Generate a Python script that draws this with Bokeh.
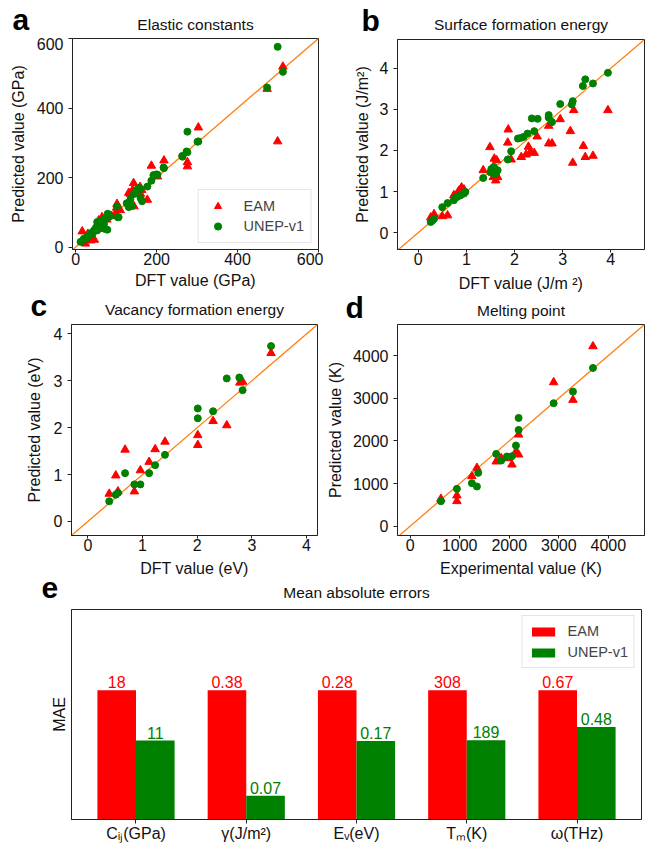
from bokeh.plotting import figure
from bokeh.layouts import column, row
from bokeh.models import Range1d, Slope, Legend, LegendItem, FixedTicker, ColumnDataSource
from bokeh.transform import dodge
from bokeh.embed import file_html
from bokeh.resources import INLINE
from bokeh.core.properties import value

FONT = "Liberation Sans"

# ---------------- data ----------------
# a: elastic constants (GPa)
a_eam_x = [16, 24, 30, 37, 46, 55, 57, 65, 68, 77, 89, 98, 101, 102, 110, 131, 135, 141, 143, 144,
           160, 159, 163, 177, 187, 202, 218, 276, 276, 303, 473, 499, 512]
a_eam_y = [45, 10, 38, 19, 21, 69, 77, 86, 53, 79, 89, 96, 113, 124, 106, 156, 153, 165, 184, 117,
           153, 173, 164, 136, 234, 203, 249, 244, 232, 344, 455, 304, 519]
a_unep_x = [12, 20, 24, 28, 33, 37, 41, 45, 46, 50, 53, 53, 58, 61, 65, 66, 69, 70, 70, 74, 78, 79,
            84, 102, 104, 106, 126, 131, 131, 135, 139, 144, 152, 156, 160, 160, 164, 177, 187, 192,
            199, 202, 217, 218, 263, 264, 274, 276, 276, 301, 303, 473, 499, 512]
a_unep_y = [15, 24, 24, 29, 33, 40, 38, 48, 46, 56, 48, 72, 72, 65, 72, 77, 77, 67, 53, 82, 50, 96,
            88, 117, 86, 86, 126, 115, 124, 137, 118, 153, 165, 170, 141, 167, 132, 174, 191, 207,
            209, 208, 229, 227, 262, 260, 275, 273, 332, 303, 304, 459, 576, 504]

# b: surface formation energy (J/m^2)
b_eam_x = [0.26, 0.33, 0.50, 0.61, 0.74, 0.78, 0.83, 0.85, 0.88, 0.90, 0.95, 1.35, 1.49, 1.56, 1.58,
           1.61, 1.63, 1.65, 1.86, 1.87, 1.93, 2.14, 2.24, 2.29, 2.33, 2.41, 2.47, 2.71, 2.71, 2.78,
           2.95, 3.16, 3.21, 3.23, 3.43, 3.47, 3.63, 3.94]
b_eam_y = [0.37, 0.45, 0.40, 0.42, 0.91, 0.90, 0.99, 1.02, 1.05, 1.10, 1.05, 1.52, 2.08, 1.35, 1.80,
           1.27, 1.76, 1.35, 2.19, 2.51, 1.78, 1.84, 1.90, 2.09, 1.96, 1.94, 2.34, 2.60, 2.17, 2.17,
           2.76, 2.47, 1.70, 2.98, 2.11, 1.84, 1.87, 2.98]
b_unep_x = [0.26, 0.30, 0.33, 0.50, 0.61, 0.74, 0.78, 0.81, 0.88, 0.95, 0.98, 1.35, 1.50, 1.52, 1.53,
            1.55, 1.57, 1.58, 1.60, 1.62, 1.65, 1.86, 1.93, 2.07, 2.14, 2.19, 2.27, 2.36, 2.41, 2.48,
            2.71, 2.71, 2.78, 2.95, 3.19, 3.21, 3.42, 3.47, 3.63, 3.94]
b_unep_y = [0.26, 0.30, 0.34, 0.62, 0.72, 0.79, 0.86, 0.87, 0.91, 0.95, 0.99, 1.33, 1.47, 1.55, 1.50,
            1.55, 1.60, 1.43, 1.52, 1.45, 1.52, 1.78, 1.98, 2.29, 2.31, 2.33, 2.41, 2.78, 2.47, 2.77,
            2.86, 2.80, 2.69, 3.13, 3.12, 3.20, 3.57, 3.73, 3.63, 3.89]

# c: vacancy formation energy (eV)
c_eam_x = [3.35, 2.78, 2.83, 2.54, 2.29, 2.01, 2.01, 1.41, 1.23, 1.12, 0.96, 0.68, 0.51, 0.55, 0.85, 0.39]
c_eam_y = [3.59, 2.96, 2.98, 2.05, 2.14, 1.84, 1.63, 1.70, 1.54, 1.27, 1.09, 1.53, 0.98, 0.64, 0.64, 0.59]
c_unep_x = [3.35, 2.77, 2.54, 2.83, 2.29, 2.01, 2.01, 1.41, 1.23, 1.12, 0.68, 0.96, 0.85, 0.55, 0.51, 0.39]
c_unep_y = [3.74, 3.07, 3.05, 2.80, 2.35, 2.41, 2.20, 1.42, 1.20, 1.03, 1.03, 0.79, 0.79, 0.61, 0.57, 0.43]

# d: melting point (K)
d_eam_x = [3690, 3286, 2896, 2189, 2189, 2135, 2054, 1953, 1838, 1737, 1347, 1246, 943, 943, 620]
d_eam_y = [4219, 2961, 3375, 2148, 1680, 1750, 1445, 1594, 1594, 1516, 1367, 1172, 719, 586, 641]
d_unep_x = [3690, 3286, 2896, 2189, 2189, 2135, 2054, 1953, 1838, 1737, 1374, 1347, 1246, 943, 620]
d_unep_y = [3711, 3156, 2883, 2539, 2258, 1891, 1641, 1633, 1539, 1695, 1250, 930, 1008, 875, 586]

# e: mean absolute errors
e_categories = ["Cᵢⱼ(GPa)", "γ(J/m²)", "Eᵥ(eV)", "Tₘ(K)", "ω(THz)"]
e_eam_mae = [18, 0.38, 0.28, 308, 0.67]
e_unep_mae = [11, 0.07, 0.17, 189, 0.48]

# titles / labels
titles = ["Elastic constants", "Surface formation energy", "Vacancy formation energy",
          "Melting point", "Mean absolute errors"]
xlabels = ["DFT value (GPa)", "DFT value (J/m ²)", "DFT value (eV)", "Experimental value (K)"]
ylabels = ["Predicted value (GPa)", "Predicted value (J/m²)", "Predicted value (eV)",
           "Predicted value (K)"]

RED = "#ff0000"
GREEN = "#008000"
ORANGE = "#ff7f0e"
SPINE = "#222222"
TXT = "#111111"


def style_axes(p, label_standoff=7):
    for ax in (p.xaxis, p.yaxis):
        ax.major_label_text_font = FONT
        ax.major_label_text_font_size = "16px"
        ax.major_label_text_color = TXT
        ax.axis_label_text_font = FONT
        ax.axis_label_text_font_size = "16px"
        ax.axis_label_text_font_style = "normal"
        ax.axis_label_text_color = TXT
        ax.major_tick_in = 0
        ax.minor_tick_out = 0
        ax.minor_tick_in = 0
        ax.axis_line_color = SPINE
        ax.major_tick_line_color = SPINE
    p.xaxis.major_tick_out = 3
    p.yaxis.major_tick_out = 4
    p.xaxis.major_label_standoff = 0
    p.yaxis.major_label_standoff = 5
    p.yaxis.axis_label_standoff = label_standoff
    p.grid.visible = False
    p.outline_line_color = SPINE
    p.outline_line_width = 1


def strip(width, height, items):
    """A text strip between panels. items: (text, x, baseline-from-top, size, bold, align)."""
    h = figure(width=width, height=height, x_range=Range1d(0, width), y_range=Range1d(0, height),
               output_backend="svg", toolbar_location=None, min_border=0, frame_align=False)
    h.axis.visible = False
    h.grid.visible = False
    h.outline_line_color = None
    for text, x, base, size, bold, align in items:
        # text is anchored at its middle: centre sits ~0.35 em above the baseline
        h.text(x=[x], y=[height - (base - 0.35 * size)], text=[text], text_align=align,
               text_baseline="middle", text_font=value(FONT), text_font_size=f"{size}px",
               text_font_style="bold" if bold else "normal",
               text_color="#000000" if bold else TXT)
    return h


def scatter_panel(xe, ye, xu, yu, xr, yr, ticks, ylabel, width, height,
                  bl, br, bt, bb, lab_standoff=7):
    p = figure(width=width, height=height, x_range=Range1d(*xr), y_range=Range1d(*yr),
               output_backend="svg", toolbar_location=None,
               min_border_left=bl, min_border_right=br, min_border_top=bt, min_border_bottom=bb)
    style_axes(p, lab_standoff)
    p.xaxis.ticker = FixedTicker(ticks=ticks)
    p.yaxis.ticker = FixedTicker(ticks=ticks)
    p.yaxis.axis_label = ylabel
    p.add_layout(Slope(gradient=1, y_intercept=0, line_color=ORANGE, line_width=1.3, level="underlay"))
    r1 = p.scatter(xe, ye, marker="triangle", size=8.5, fill_color=RED, line_color=RED)
    r2 = p.scatter(xu, yu, marker="circle", size=7, fill_color=GREEN, line_color=GREEN)
    return p, r1, r2


# ---- row 1 ----
ha = strip(323, 37, [("a", 12, 29, 30, True, "left"), (titles[0], 195, 29, 15.5, False, "center")])
hb = strip(323, 37, [("b", 38, 30.5, 30, True, "left"), (titles[1], 197.5, 29, 15.5, False, "center")])
pa, ra1, ra2 = scatter_panel(a_eam_x, a_eam_y, a_unep_x, a_unep_y,
                             (-8, 600), (-7, 600), [0, 200, 400, 600], ylabels[0],
                             323, 233, 72, 5, 1, 21)
leg = Legend(items=[LegendItem(label="EAM", renderers=[ra1]),
                    LegendItem(label="UNEP-v1", renderers=[ra2])],
             location="bottom_right")
leg.margin = 6
leg.padding = 7
leg.spacing = 2
leg.glyph_width = 24
leg.glyph_height = 18
leg.label_height = 18
leg.label_standoff = 14
leg.label_text_font = FONT
leg.label_text_font_size = "14.5px"
leg.border_line_color = "#cccccc"
leg.background_fill_alpha = 0.8
pa.add_layout(leg)

pb, _, _ = scatter_panel(b_eam_x, b_eam_y, b_unep_x, b_unep_y,
                         (-0.43, 4.7), (-0.41, 4.7), [0, 1, 2, 3, 4], ylabels[1],
                         323, 233, 74, 2, 2, 21, lab_standoff=6)

# ---- row 2 (strip carries the x labels of row 1 and the headers of row 2) ----
hc = strip(323, 52, [(xlabels[0], 195, 16, 16, False, "center"),
                     ("c", 30, 45, 30, True, "left"),
                     (titles[2], 194, 44, 15.5, False, "center")])
hd = strip(323, 52, [(xlabels[1], 197.5, 18.5, 16, False, "center"),
                     ("d", 22, 47, 30, True, "left"),
                     (titles[3], 197.5, 45, 15.5, False, "center")])
pc, _, _ = scatter_panel(c_eam_x, c_eam_y, c_unep_x, c_unep_y,
                         (-0.3, 4.2), (-0.3, 4.2), [0, 1, 2, 3, 4], ylabels[2],
                         323, 234, 71, 6, 2, 21, lab_standoff=8)
pd_, _, _ = scatter_panel(d_eam_x, d_eam_y, d_unep_x, d_unep_y,
                          (-256, 4730), (-219, 4730), [0, 1000, 2000, 3000, 4000], ylabels[3],
                          323, 234, 74, 2, 2, 21, lab_standoff=6)

# ---- row 3 (strip carries the x labels of row 2 and the header of e) ----
he = strip(646, 51, [(xlabels[2], 194, 18, 16, False, "center"),
                     (xlabels[3], 520.5, 17.5, 16, False, "center"),
                     ("e", 41, 42, 30, True, "left"),
                     (titles[4], 356, 41, 15.5, False, "center")])

idx = list(range(len(e_categories)))
eam_h = [v / v for v in e_eam_mae]
unep_h = [u / e for u, e in zip(e_unep_mae, e_eam_mae)]
src = ColumnDataSource(dict(idx=idx, eam_h=eam_h, unep_h=unep_h,
                            eam_lbl=[str(v) for v in e_eam_mae],
                            unep_lbl=[str(v) for v in e_unep_mae]))

pe = figure(width=646, height=237, x_range=Range1d(-0.585, 4.585), y_range=Range1d(0, 1.625),
            output_backend="svg", toolbar_location=None,
            min_border_left=71, min_border_right=5, min_border_top=2, min_border_bottom=23)
style_axes(pe, 7)
pe.xaxis.major_tick_out = 4
pe.xaxis.major_label_standoff = 1
pe.xaxis.ticker = FixedTicker(ticks=idx)
pe.xaxis.major_label_overrides = {i: c for i, c in zip(idx, e_categories)}
pe.yaxis.ticker = FixedTicker(ticks=[])
pe.yaxis.axis_label = "MAE"
pe.yaxis.axis_label_standoff = 4

b1 = pe.vbar(x=dodge("idx", -0.175, range=pe.x_range), top="eam_h", width=0.35, source=src,
             fill_color=RED, line_color=None)
b2 = pe.vbar(x=dodge("idx", 0.175, range=pe.x_range), top="unep_h", width=0.35, source=src,
             fill_color=GREEN, line_color=None)
pe.text(x=dodge("idx", -0.175, range=pe.x_range), y="eam_h", text="eam_lbl", source=src,
        text_align="center", text_baseline="middle", y_offset=-8,
        text_font=value(FONT), text_font_size="16px", text_color=RED)
pe.text(x=dodge("idx", 0.175, range=pe.x_range), y="unep_h", text="unep_lbl", source=src,
        text_align="center", text_baseline="middle", y_offset=-8,
        text_font=value(FONT), text_font_size="16px", text_color=GREEN)

leg_e = Legend(items=[LegendItem(label="EAM", renderers=[b1]),
                      LegendItem(label="UNEP-v1", renderers=[b2])],
               location="top_right")
leg_e.margin = 6
leg_e.padding = 6
leg_e.spacing = 3
leg_e.glyph_width = 29
leg_e.glyph_height = 11
leg_e.label_height = 18
leg_e.label_standoff = 10
leg_e.label_text_font = FONT
leg_e.label_text_font_size = "14.5px"
leg_e.border_line_color = "#cccccc"
pe.add_layout(leg_e)

layout = column(row(column(ha, pa), column(hb, pb)),
                row(column(hc, pc), column(hd, pd_)),
                column(he, pe))
open("out.html", "w").write(file_html(layout, INLINE))
